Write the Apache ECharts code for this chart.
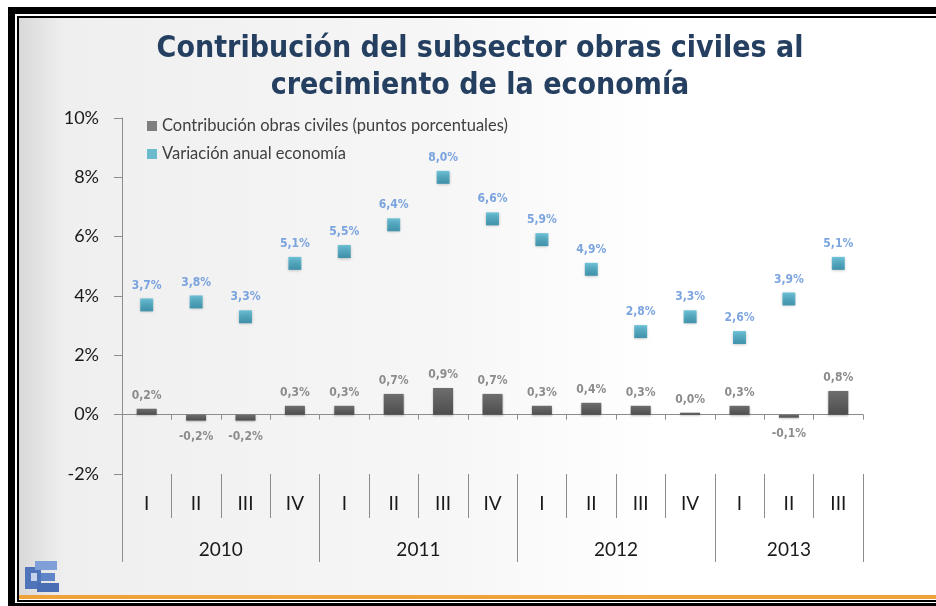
<!DOCTYPE html>
<html>
<head>
<meta charset="utf-8">
<script src="https://cdn.jsdelivr.net/npm/echarts@6/dist/echarts.min.js"></script>
<style>
  html, body { margin: 0; padding: 0; background: #fff; }
  #chart { width: 936px; height: 606px; }
</style>
</head>
<body>
<div id="chart"></div>
<script>
// datos
var trimestres = ['I', 'II', 'III', 'IV', 'I', 'II', 'III', 'IV', 'I', 'II', 'III', 'IV', 'I', 'II', 'III'];
var anios = ['2010', '2011', '2012', '2013'];
var aniosPos = [2, 6, 10, 13.5];       // centro de cada año en trimestres
var aniosCortes = [0, 4, 8, 12, 15];   // separadores de año
var obrasCiviles = [0.2, -0.2, -0.2, 0.3, 0.3, 0.7, 0.9, 0.7, 0.3, 0.4, 0.3, 0.0, 0.3, -0.1, 0.8];
var economia = [3.7, 3.8, 3.3, 5.1, 5.5, 6.4, 8.0, 6.6, 5.9, 4.9, 2.8, 3.3, 2.6, 3.9, 5.1];
var yTicks = [-2, 0, 2, 4, 6, 8, 10];

window.onload = function () {
  var chart = echarts.init(document.getElementById('chart'));

  function pct(v) {
    return v.toFixed(1).replace('.', ',') + '%';
  }

  var gridBox = { left: 122, right: 73, top: 118, bottom: 132 };
  var yMin = yTicks[0], yMax = yTicks[yTicks.length - 1];

  var barData = obrasCiviles.map(function (v) {
    return {
      value: v,
      label: { position: v < 0 ? 'bottom' : 'top', distance: v < 0 ? 10 : 7 }
    };
  });

  var option = {
    backgroundColor: '#ffffff',
    animation: false,
    graphic: [
      // fondo
      {
        type: 'rect', z: -10, silent: true,
        shape: { x: 19, y: 18, width: 917, height: 577 },
        style: {
          fill: new echarts.graphic.LinearGradient(0, 0, 1, 0, [
            { offset: 0, color: '#d9d9d9' },
            { offset: 0.05, color: '#efefef' },
            { offset: 0.45, color: '#f6f6f6' },
            { offset: 0.7, color: '#ffffff' },
            { offset: 1, color: '#ffffff' }
          ])
        }
      },
      // marco
      { type: 'rect', silent: true, shape: { x: 8, y: 7, width: 928, height: 7 }, style: { fill: '#000' } },
      { type: 'rect', silent: true, shape: { x: 17, y: 16, width: 919, height: 2 }, style: { fill: '#000' } },
      { type: 'rect', silent: true, shape: { x: 8, y: 7, width: 7, height: 599 }, style: { fill: '#000' } },
      { type: 'rect', silent: true, shape: { x: 17, y: 16, width: 2, height: 586 }, style: { fill: '#000' } },
      { type: 'rect', silent: true, shape: { x: 19, y: 595, width: 917, height: 4 }, style: { fill: '#f0a23a' } },
      { type: 'rect', silent: true, shape: { x: 17, y: 600, width: 919, height: 2 }, style: { fill: '#000' } },
      { type: 'rect', silent: true, shape: { x: 8, y: 603, width: 928, height: 3 }, style: { fill: '#000' } },
      // logo
      {
        type: 'group', silent: true, left: 25, top: 561,
        children: [
          { type: 'rect', shape: { x: 0, y: 6, width: 16, height: 22 }, style: { fill: '#4f74ba' } },
          { type: 'rect', shape: { x: 10, y: 0, width: 22, height: 9 }, style: { fill: '#7f9fd8' } },
          { type: 'rect', shape: { x: 16, y: 12, width: 14, height: 8 }, style: { fill: '#5f84c8' } },
          { type: 'rect', shape: { x: 12, y: 22, width: 22, height: 9 }, style: { fill: '#4a6eb4' } },
          { type: 'rect', shape: { x: 6, y: 12, width: 6, height: 8 }, style: { fill: '#c5d2ea' } }
        ]
      }
    ],
    title: {
      text: 'Contribución del subsector obras civiles al\ncrecimiento de la economía',
      left: 475,
      textAlign: 'center',
      top: 26,
      textStyle: {
        fontFamily: 'DejaVu Sans Condensed',
        fontWeight: 'bold',
        fontSize: 30,
        lineHeight: 37,
        color: '#243f60'
      }
    },
    legend: {
      orient: 'vertical',
      left: 142,
      top: 112,
      itemWidth: 10,
      itemHeight: 10,
      itemGap: 10,
      icon: 'rect',
      textStyle: { fontFamily: 'Lato', fontSize: 16.5, color: '#404040', lineHeight: 18 },
      data: [
        { name: 'Contribución obras civiles (puntos porcentuales)', itemStyle: { color: '#7f7f7f' } },
        { name: 'Variación anual economía', itemStyle: { color: '#4bacc6' } }
      ]
    },
    grid: [
      Object.assign({}, gridBox),
      Object.assign({}, gridBox),
      Object.assign({}, gridBox)
    ],
    xAxis: [
      {
        gridIndex: 0,
        type: 'category',
        data: trimestres,
        boundaryGap: true,
        axisLine: { onZero: true, lineStyle: { color: '#8c8c8c', width: 1 } },
        axisTick: { show: true, interval: 0, length: 5, lineStyle: { color: '#8c8c8c' } },
        axisLabel: { show: false },
        splitLine: { show: false }
      },
      {
        gridIndex: 1,
        type: 'category',
        data: trimestres,
        boundaryGap: true,
        position: 'bottom',
        axisLine: { show: false, onZero: false },
        axisTick: { show: true, interval: 0, length: 44, lineStyle: { color: '#8c8c8c' } },
        axisLabel: { interval: 0, margin: 20, fontFamily: 'Lato', fontSize: 19, color: '#1a1a1a' },
        splitLine: { show: false }
      },
      {
        gridIndex: 2,
        type: 'value',
        min: 0,
        max: trimestres.length,
        position: 'bottom',
        axisLine: { show: false, onZero: false },
        axisTick: { show: true, customValues: aniosCortes, length: 88, lineStyle: { color: '#8c8c8c' } },
        axisLabel: {
          customValues: aniosPos,
          margin: 66,
          fontFamily: 'Lato',
          fontSize: 19,
          color: '#1a1a1a',
          formatter: function (v) {
            return anios[aniosPos.indexOf(v)];
          }
        },
        splitLine: { show: false }
      }
    ],
    yAxis: [
      {
        gridIndex: 0,
        type: 'value',
        min: yMin,
        max: yMax,
        interval: 2,
        axisLine: { show: true, lineStyle: { color: '#8c8c8c' } },
        axisTick: { show: true, length: 8, lineStyle: { color: '#8c8c8c' } },
        axisLabel: { formatter: '{value}%', margin: 23, fontFamily: 'Lato', fontSize: 18, color: '#1a1a1a' },
        splitLine: { show: false }
      },
      { gridIndex: 1, type: 'value', min: yMin, max: yMax, show: false },
      { gridIndex: 2, type: 'value', min: yMin, max: yMax, show: false }
    ],
    series: [
      {
        name: 'Contribución obras civiles (puntos porcentuales)',
        type: 'bar',
        xAxisIndex: 0,
        yAxisIndex: 0,
        barWidth: 20,
        barMinHeight: 2,
        data: barData,
        itemStyle: {
          color: new echarts.graphic.LinearGradient(0, 0, 0, 1, [
            { offset: 0, color: '#6e6e6e' },
            { offset: 1, color: '#4d4d4d' }
          ]),
          shadowColor: 'rgba(0,0,0,0.25)',
          shadowBlur: 2,
          shadowOffsetY: 1
        },
        label: {
          show: true,
          formatter: function (p) { return pct(p.value); },
          fontFamily: 'DejaVu Sans Condensed',
          fontWeight: 'bold',
          fontSize: 12,
          color: '#8c8c8c'
        },
        z: 3
      },
      {
        name: 'Variación anual economía',
        type: 'scatter',
        xAxisIndex: 0,
        yAxisIndex: 0,
        symbol: 'rect',
        symbolSize: 13,
        data: economia,
        itemStyle: {
          color: new echarts.graphic.LinearGradient(0, 0, 0, 1, [
            { offset: 0, color: '#4fb8d2' },
            { offset: 1, color: '#1e83a2' }
          ]),
          shadowColor: 'rgba(0,0,0,0.3)',
          shadowBlur: 3,
          shadowOffsetY: 1
        },
        label: {
          show: true,
          position: 'top',
          distance: 7,
          formatter: function (p) { return pct(p.value); },
          fontFamily: 'DejaVu Sans Condensed',
          fontWeight: 'bold',
          fontSize: 12,
          color: '#5b8ed8'
        },
        z: 4
      }
    ]
  };

  chart.setOption(option);
};
</script>
</body>
</html>
